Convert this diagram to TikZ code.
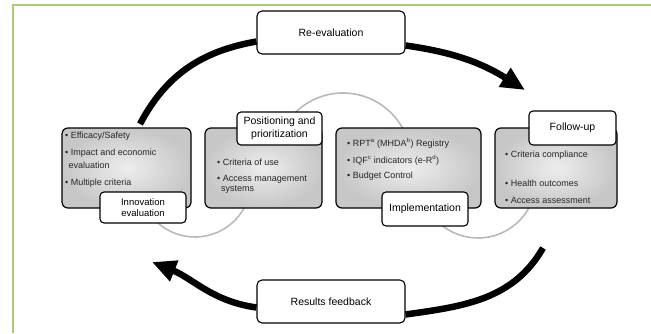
\documentclass[tikz,border=0pt]{standalone}
\usepackage{fontspec}
\setmainfont{Liberation Sans}
\usetikzlibrary{arrows.meta,backgrounds}
\definecolor{framegreen}{RGB}{168,204,118}
\definecolor{ringgray}{RGB}{185,185,185}
\tikzset{
  stagebox/.style={rectangle,rounded corners=6pt,draw=black,line width=1.2pt,
    inner color=black!7,outer color=black!22,minimum height=80pt,inner sep=0pt},
  tagbox/.style={rectangle,rounded corners=4pt,draw=black,line width=1.1pt,
    fill=white,align=center,inner sep=1pt,font=\fontsize{10.5}{12.5}\selectfont},
  cyclebox/.style={rectangle,rounded corners=5pt,draw=black,line width=1.1pt,
    fill=white,minimum width=148pt,minimum height=43pt,inner sep=1pt,
    font=\fontsize{10.5}{12.5}\selectfont},
  itemtext/.style={anchor=west,inner sep=0pt,text=black!85,
    font=\fontsize{9}{11}\selectfont},
  cyclearrow/.style={line width=6.5pt,black},
  ringarc/.style={line width=1.6pt,ringgray}
}

\begin{document}
\begin{tikzpicture}[x=1pt,y=1pt]
  \useasboundingbox (0,0) rectangle (651,333);
  \draw[framegreen,line width=2pt] (12.5,0) -- (12.5,327.5) -- (651,327.5);

  % the four stages
  \node[stagebox,minimum width=129pt] (innovbox) at (126.5,165) {};
  \node[stagebox,minimum width=117pt] (posbox) at (263.5,165) {};
  \node[stagebox,minimum width=145pt] (implbox) at (408.5,165) {};
  \node[stagebox,minimum width=122pt] (followbox) at (556,165) {};

  \node[itemtext] (innovA) at (65,197) {• Efficacy/Safety};
  \node[itemtext] (innovB) at (65,180) {• Impact and economic};
  \node[itemtext] (innovC) at (68.5,168) {evaluation};
  \node[itemtext] (innovD) at (65,150) {• Multiple criteria};

  \node[itemtext] (posA) at (217,171) {• Criteria of use};
  \node[itemtext] (posB) at (217,154) {• Access management};
  \node[itemtext] (posC) at (221,143) {systems};

  \node[itemtext] (implA) at (347,190) {• RPT\textsuperscript{a} (MHDA\textsuperscript{b}) Registry};
  \node[itemtext] (implB) at (347,173) {• IQF\textsuperscript{c} indicators (e-R\textsuperscript{d})};
  \node[itemtext] (implC) at (347,157) {• Budget Control};

  \node[itemtext] (followA) at (505,178) {• Criteria compliance};
  \node[itemtext] (followB) at (505,150) {• Health outcomes};
  \node[itemtext] (followC) at (505,133) {• Access assessment};

  % stage names
  \node[tagbox,minimum width=86pt,minimum height=31pt,
    font=\fontsize{9.5}{11}\selectfont] (innovtag) at (143,125.5) {Innovation\\evaluation};
  \node[tagbox,minimum width=85pt,minimum height=33pt] (postag) at (279.5,204.5)
    {Positioning and\\prioritization};
  \node[tagbox,minimum width=86pt,minimum height=34pt] (impltag) at (425,124) {Implementation};
  \node[tagbox,minimum width=87pt,minimum height=34pt] (followtag) at (572.5,205) {Follow-up};

  % outer cycle
  \node[cyclebox] (reeval) at (331,300.5) {Re-evaluation\hspace{20pt}};
  \node[cyclebox] (feedback) at (331,31.5) {Results feedback\hspace{20pt}};
  \coordinate (topstart) at (140,209);
  \coordinate (toptip) at (525,243);
  \coordinate (botstart) at (543,85);
  \coordinate (bottip) at (152,71);

  \begin{scope}[on background layer]
    \draw[ringarc] (195,152) ++(200:56) arc[start angle=200,end angle=340,radius=56];
    \draw[ringarc] (343,172) ++(20:68) arc[start angle=20,end angle=160,radius=68];
    \draw[ringarc] (478,153) ++(200:58) arc[start angle=200,end angle=340,radius=58];

    \draw[cyclearrow] (topstart) to[out=62,in=190] ([yshift=-9pt]reeval.west);
    \draw[cyclearrow,-{Triangle[length=24pt,width=21pt]}]
      ([yshift=-13pt]reeval.east) to[out=-8,in=148] (toptip);
    \draw[cyclearrow] (botstart) to[out=240,in=8] ([yshift=-13pt]feedback.east);
    \draw[cyclearrow,-{Triangle[length=24pt,width=21pt]}]
      ([yshift=-6pt]feedback.west) to[out=172,in=-22] (bottip);
  \end{scope}
\end{tikzpicture}
\end{document}
